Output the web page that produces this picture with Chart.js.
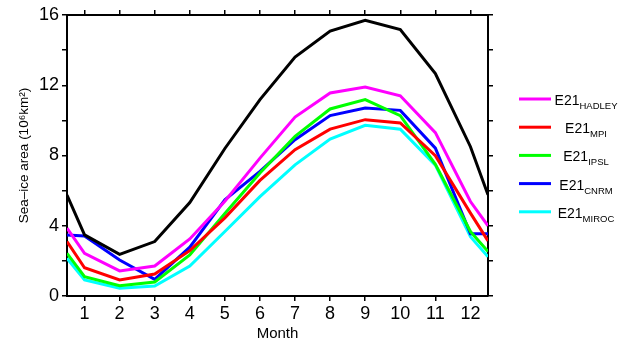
<!DOCTYPE html>
<html>
<head>
<meta charset="utf-8">
<script src="https://cdn.jsdelivr.net/npm/chart.js@4"></script>
<style>
  html, body { margin: 0; padding: 0; background: #fff; }
  #wrap { width: 628px; height: 343px; }
</style>
</head>
<body>
<div id="wrap"><canvas id="myChart" width="628" height="343"></canvas></div>
<script>
// x positions: half-month edges plus months 1..12
var months = [0.5, 1, 2, 3, 4, 5, 6, 7, 8, 9, 10, 11, 12, 12.5];
var monthTicks = [1, 2, 3, 4, 5, 6, 7, 8, 9, 10, 11, 12];
var yTicks = [0, 2, 4, 6, 8, 10, 12, 14, 16];

var obs    = [5.75, 3.48, 2.37, 3.10, 5.32, 8.40, 11.18, 13.60, 15.08, 15.70, 15.17, 12.66, 8.50, 5.76];
var hadley = [3.86, 2.43, 1.43, 1.71, 3.25, 5.40, 7.85, 10.19, 11.56, 11.90, 11.40, 9.30, 5.38, 4.00];
var mpi    = [3.10, 1.61, 0.91, 1.25, 2.58, 4.45, 6.58, 8.33, 9.50, 10.04, 9.85, 7.99, 4.72, 3.14];
var ipsl   = [2.43, 1.10, 0.59, 0.80, 2.34, 4.70, 7.00, 9.09, 10.65, 11.18, 10.27, 7.50, 3.67, 2.53];
var cnrm   = [3.48, 3.42, 2.05, 0.95, 2.78, 5.48, 7.10, 8.90, 10.27, 10.70, 10.57, 8.42, 3.54, 3.54];
var miroc  = [2.15, 0.91, 0.44, 0.57, 1.71, 3.67, 5.66, 7.47, 8.94, 9.72, 9.50, 7.45, 3.38, 2.24];

var legendNames = ["HADLEY", "MPI", "IPSL", "CNRM", "MIROC"];

function pts(arr) {
  return arr.map(function (v, i) { return { x: months[i], y: v }; });
}

function ds(label, color, arr) {
  return {
    label: label,
    data: pts(arr),
    borderColor: color,
    backgroundColor: color,
    borderWidth: 3,
    pointRadius: 0,
    tension: 0,
    fill: false
  };
}

const data = {
  datasets: [
    ds("OBS", "#000000", obs),
    ds("HADLEY", "#ff00ff", hadley),
    ds("MPI", "#ff0000", mpi),
    ds("IPSL", "#00ff00", ipsl),
    ds("CNRM", "#0000ff", cnrm),
    ds("MIROC", "#00ffff", miroc)
  ]
};

const FONT = "'Liberation Sans', Arial, Helvetica, sans-serif";

// legend with subscripted model names, drawn on the right side
const subLegend = {
  id: "subLegend",
  afterDraw(chart) {
    var ctx = chart.ctx;
    ctx.save();
    legendNames.forEach(function (name, i) {
      var d = chart.data.datasets[i + 1];
      var y = 99 + i * 28.2;
      ctx.strokeStyle = d.borderColor;
      ctx.lineWidth = 3;
      ctx.beginPath();
      ctx.moveTo(519, y);
      ctx.lineTo(551, y);
      ctx.stroke();

      ctx.fillStyle = "#000";
      ctx.font = "14px " + FONT;
      var w1 = ctx.measureText("E21").width;
      ctx.font = "9.5px " + FONT;
      var w2 = ctx.measureText(name).width;
      var x0 = 586 - (w1 + w2) / 2;
      ctx.textBaseline = "alphabetic";
      ctx.textAlign = "left";
      ctx.font = "14px " + FONT;
      ctx.fillText("E21", x0, y + 6);
      ctx.font = "9.5px " + FONT;
      ctx.fillText(name, x0 + w1, y + 10);
    });
    ctx.restore();
  }
};

function setTicks(list) {
  return function (scale) {
    scale.ticks = list.map(function (v) { return { value: v }; });
  };
}

const axisBorder = { display: true, color: "#000", width: 2 };
const tickGrid = { drawOnChartArea: false, drawTicks: true, tickLength: 5, color: "#000", lineWidth: 1.5 };

const config = {
  type: "line",
  data,
  options: {
    responsive: false,
    animation: false,
    layout: { padding: { left: 0, right: 0, top: 0, bottom: 0 } },
    plugins: { legend: { display: false }, tooltip: { enabled: false } },
    scales: {
      x: {
        type: "linear",
        position: "bottom",
        min: 0.5,
        max: 12.5,
        afterBuildTicks: setTicks(monthTicks),
        afterFit: function (s) { s.height = 47; },
        border: axisBorder,
        grid: tickGrid,
        ticks: { color: "#000", font: { family: FONT, size: 18 }, padding: 2, maxRotation: 0, autoSkip: false },
        title: { display: true, text: "Month", color: "#000", font: { family: FONT, size: 15 }, padding: { top: 0, bottom: 0 } }
      },
      xTop: {
        type: "linear",
        position: "top",
        min: 0.5,
        max: 12.5,
        afterBuildTicks: setTicks(monthTicks),
        afterFit: function (s) { s.height = 15; },
        border: axisBorder,
        grid: tickGrid,
        ticks: { display: false }
      },
      y: {
        type: "linear",
        position: "left",
        min: 0,
        max: 16,
        afterBuildTicks: setTicks(yTicks),
        afterFit: function (s) { s.width = 67; },
        border: axisBorder,
        grid: tickGrid,
        ticks: {
          color: "#000",
          font: { family: FONT, size: 18 },
          padding: 3,
          autoSkip: false,
          callback: function (v) { return v % 4 === 0 ? String(v) : ""; }
        },
        title: { display: true, text: "Sea–ice area (10⁶km²)", color: "#000", font: { family: FONT, size: 13.5 }, padding: { top: 16, bottom: 0 } }
      },
      yRight: {
        type: "linear",
        position: "right",
        min: 0,
        max: 16,
        afterBuildTicks: setTicks(yTicks),
        afterFit: function (s) { s.width = 140; },
        border: axisBorder,
        grid: tickGrid,
        ticks: { display: false }
      }
    }
  },
  plugins: [subLegend]
};

var myChart = new Chart(document.getElementById("myChart"), config);
</script>
</body>
</html>
